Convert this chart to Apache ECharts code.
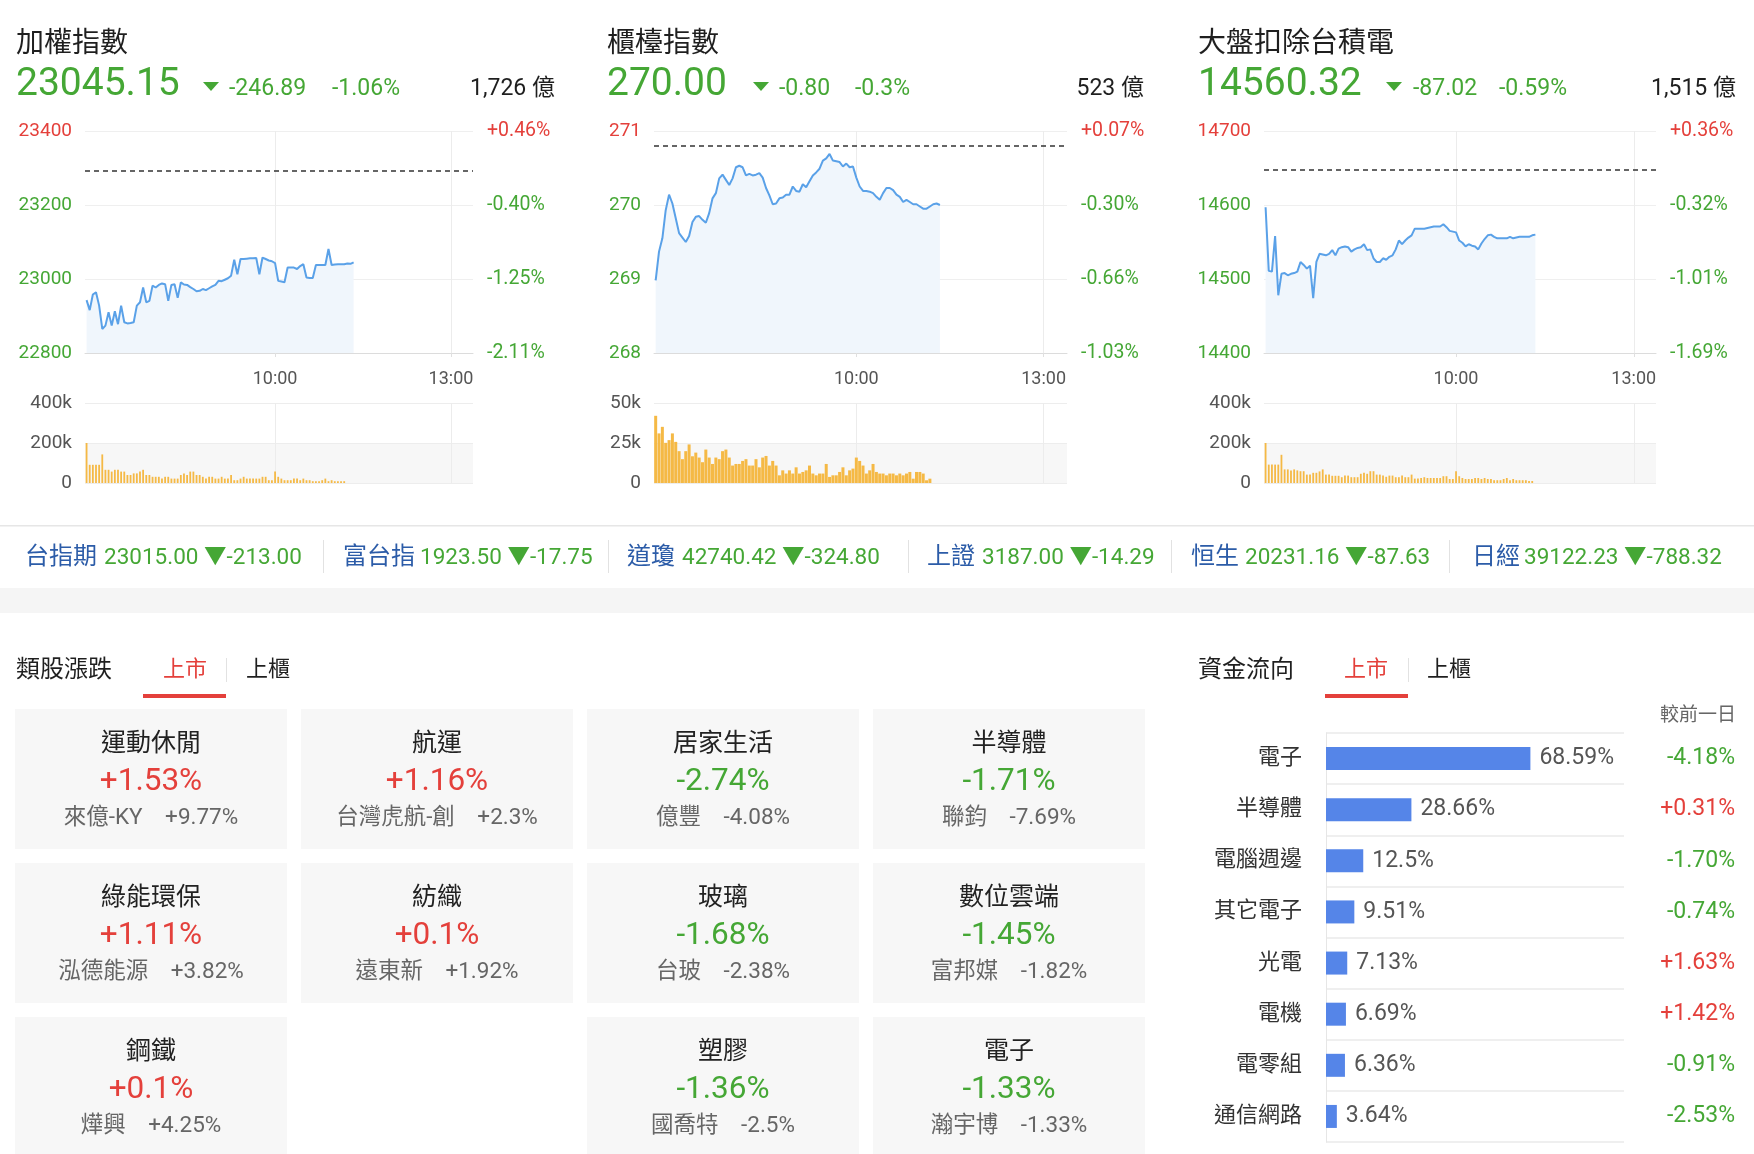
<!DOCTYPE html>
<html><head><meta charset="utf-8">
<script src="https://cdn.jsdelivr.net/npm/echarts@6/dist/echarts.min.js"></script>
<style>html,body{margin:0;padding:0;background:#fff;}#c{width:1754px;height:1154px;}</style>
</head><body><div id="c"></div>
<script>
// ---------------- DATA ----------------
const indexNames = ['加權指數', '櫃檯指數', '大盤扣除台積電'];
const indexLast = ['23045.15', '270.00', '14560.32'];
const indexChange = ['-246.89', '-0.80', '-87.02'];
const indexChangePct = ['-1.06%', '-0.3%', '-0.59%'];
const indexTurnover = ['1,726 億', '523 億', '1,515 億'];
const prevClose = [23292.04, 270.80, 14647.34];
const priceMin = [22800, 268, 14400];
const priceMax = [23400, 271, 14700];
const priceStep = [200, 1, 100];
const pctLabels = [
  ['-2.11%', '-1.25%', '-0.40%', '+0.46%'],
  ['-1.03%', '-0.66%', '-0.30%', '+0.07%'],
  ['-1.69%', '-1.01%', '-0.32%', '+0.36%']
];
const volMax = [400, 50, 400];
const volStep = [200, 25, 200];
const timeTickValues = [60, 116];
const timeTickLabels = ['10:00', '13:00'];

const taiexPrice = [22943,22916,22958,22964,22928,22865,22874,22910,22874,22913,
22878,22928,22883,22880,22881,22883,22928,22937,22977,22937,
22941,22982,22977,22984,22988,22986,22941,22984,22986,22949,
22991,22985,22984,22978,22973,22967,22968,22973,22970,22975,
22980,22984,22995,22994,22998,23002,23009,23052,23013,23054,
23054,23055,23056,23056,23057,23013,23058,23054,23050,23048,
23043,22995,22993,22991,23031,23031,23031,23027,23035,23040,
23004,23003,23003,23038,23038,23038,23038,23081,23038,23039,
23040,23040,23040,23042,23041,23045];
const taiexVolume = [200,91,91,91,91,143,66,66,57,66,
66,57,57,40,40,48,48,57,66,40,
40,31,31,31,22,31,31,22,22,22,
40,48,40,57,57,40,40,31,22,31,
31,22,22,31,22,22,40,14,14,22,
31,22,22,22,22,22,31,31,14,14,
57,31,22,14,14,14,22,22,14,22,
14,14,9,9,9,14,22,9,14,9,
9,9,9];

const otcPrice = [268.98,269.37,269.55,269.93,270.14,270.02,269.82,269.62,269.56,269.50,
269.58,269.77,269.84,269.85,269.80,269.76,269.89,270.09,270.16,270.36,
270.41,270.34,270.27,270.36,270.51,270.53,270.51,270.40,270.42,270.40,
270.41,270.43,270.37,270.23,270.13,270.01,270.02,270.09,270.10,270.14,
270.14,270.25,270.19,270.18,270.28,270.24,270.32,270.40,270.44,270.49,
270.60,270.63,270.69,270.60,270.59,270.58,270.52,270.56,270.51,270.52,
270.37,270.25,270.19,270.19,270.18,270.16,270.11,270.07,270.16,270.23,
270.23,270.20,270.14,270.11,270.04,270.07,270.04,270.01,270.01,269.98,
269.95,269.95,269.98,270.01,270.02,270.00];
const otcVolume = [42.0,31.0,35.1,25.1,26.8,31.0,25.7,19.9,14.9,19.9,
24.1,16.7,19.0,15.9,13.0,20.9,15.9,11.9,15.9,14.9,
19.9,20.9,15.9,10.9,11.9,11.9,13.8,14.9,10.9,10.9,
14.9,9.8,15.9,16.9,10.9,13.8,10.9,4.8,7.9,5.9,
7.9,5.9,9.8,5.9,6.9,7.9,10.9,5.9,4.8,5.9,
5.9,11.9,3.8,4.8,4.8,6.9,9.8,4.8,7.9,9.0,
15.9,13.8,10.9,5.9,7.9,11.9,6.9,5.9,5.9,4.8,
5.9,5.9,4.8,5.9,4.8,5.9,6.9,2.7,6.9,6.9,
5.9,1.7,2.7];

const exTsmcPrice = [14597,14511,14510,14558,14478,14507,14508,14505,14507,14508,
14510,14523,14519,14514,14518,14474,14523,14534,14533,14532,
14534,14539,14532,14541,14543,14544,14543,14537,14540,14542,
14543,14547,14539,14540,14528,14523,14523,14528,14526,14530,
14532,14540,14552,14547,14552,14556,14559,14568,14568,14568,
14568,14569,14570,14571,14571,14571,14574,14570,14565,14564,
14563,14552,14549,14544,14547,14545,14544,14540,14548,14554,
14559,14560,14557,14555,14555,14555,14555,14557,14555,14556,
14557,14557,14557,14557,14559,14560];
const exTsmcVolume = [200,92,92,92,92,141,68,68,63,68,
63,59,59,42,42,51,51,58,68,42,
42,36,36,36,29,37,37,29,29,29,
46,51,46,59,59,42,42,37,31,37,
37,29,29,37,29,29,42,22,22,25,
29,25,25,25,25,25,34,34,20,20,
59,34,25,20,20,20,25,25,20,25,
20,20,14,14,14,20,25,14,20,14,
14,14,14,10,10];

const tickerNames = ['台指期', '富台指', '道瓊', '上證', '恒生', '日經'];
const tickerValues = ['23015.00', '1923.50', '42740.42', '3187.00', '20231.16', '39122.23'];
const tickerChanges = ['-213.00', '-17.75', '-324.80', '-14.29', '-87.63', '-788.32'];

const sectorNames = ['運動休閒', '航運', '居家生活', '半導體', '綠能環保', '紡織', '玻璃', '數位雲端', '鋼鐵', null, '塑膠', '電子'];
const sectorPct = ['+1.53%', '+1.16%', '-2.74%', '-1.71%', '+1.11%', '+0.1%', '-1.68%', '-1.45%', '+0.1%', null, '-1.36%', '-1.33%'];
const sectorLeader = ['來億-KY', '台灣虎航-創', '億豐', '聯鈞', '泓德能源', '遠東新', '台玻', '富邦媒', '燁興', null, '國喬特', '瀚宇博'];
const sectorLeaderPct = ['+9.77%', '+2.3%', '-4.08%', '-7.69%', '+3.82%', '+1.92%', '-2.38%', '-1.82%', '+4.25%', null, '-2.5%', '-1.33%'];

const fundCats = ['電子', '半導體', '電腦週邊', '其它電子', '光電', '電機', '電零組', '通信網路'];
const fundShare = [68.59, 28.66, 12.5, 9.51, 7.13, 6.69, 6.36, 3.64];
const fundChange = ['-4.18%', '+0.31%', '-1.70%', '-0.74%', '+1.63%', '+1.42%', '-0.91%', '-2.53%'];

// ---------------- STYLE / LAYOUT ----------------
const GREEN = '#45a735', RED = '#e4403b', BLUE_T = '#2c5ca8';
const FONT = "Roboto, 'Noto Sans CJK TC', 'Noto Sans', sans-serif";
const panels = [
  {gl: 85, gw: 388, tx: 16, tri: 203, chg: 229, pct: 332, turn: 555, price: taiexPrice, vol: taiexVolume, bw: 1.8},
  {gl: 654, gw: 413, tx: 607, tri: 753, chg: 779, pct: 855, turn: 1144, price: otcPrice, vol: otcVolume, bw: 3},
  {gl: 1264, gw: 392, tx: 1198, tri: 1386, chg: 1413, pct: 1499, turn: 1736, price: exTsmcPrice, vol: exTsmcVolume, bw: 1.8}
];

function txt(x, y, text, size, fill, align, weight) {
  return {type: 'text', x: x, y: y, z: 10, style: {text: text, fill: fill, fontSize: size, fontFamily: FONT,
    fontWeight: weight || 'normal', align: align || 'left', verticalAlign: 'middle'}};
}
function rect(x, y, w, h, fill) {
  return {type: 'rect', z: 1, shape: {x: x, y: y, width: w, height: h}, style: {fill: fill}};
}

const grids = [], xAxes = [], yAxes = [], series = [], graphics = [];

panels.forEach((p, k) => {
  grids.push({left: p.gl, top: 131, width: p.gw, height: 222});
  grids.push({left: p.gl, top: 403, width: p.gw, height: 80});
  const xBase = {type: 'value', min: -0.5, max: 123,
    splitLine: {show: true, lineStyle: {color: '#ececec', width: 1}}};
  xAxes.push(Object.assign({}, xBase, {gridIndex: 2 * k,
    axisLine: {show: true, lineStyle: {color: '#dcdcdc'}},
    axisTick: {show: true, customValues: timeTickValues, length: 4, lineStyle: {color: '#e0e0e0'}},
    axisLabel: {show: true, customValues: timeTickValues, margin: 18, color: '#555', fontSize: 18, fontFamily: FONT,
      formatter: v => timeTickLabels[timeTickValues.indexOf(v)]}}));
  xAxes.push(Object.assign({}, xBase, {gridIndex: 2 * k + 1,
    axisLine: {show: false}, axisTick: {show: false, customValues: timeTickValues},
    axisLabel: {show: false, customValues: timeTickValues}}));
  const colorFn = v => (v > prevClose[k] ? RED : GREEN);
  yAxes.push({gridIndex: 2 * k, type: 'value', min: priceMin[k], max: priceMax[k], interval: priceStep[k], position: 'left',
    axisLine: {show: false}, axisTick: {show: false},
    axisLabel: {color: colorFn, fontSize: 19, fontFamily: FONT, margin: 13, formatter: v => String(v)},
    splitLine: {show: true, lineStyle: {color: '#efefef'}}});
  yAxes.push({gridIndex: 2 * k, type: 'value', min: priceMin[k], max: priceMax[k], interval: priceStep[k], position: 'right',
    axisLine: {show: false}, axisTick: {show: false}, splitLine: {show: false},
    axisLabel: {color: colorFn, fontSize: 19.5, fontFamily: FONT, margin: 14,
      formatter: v => pctLabels[k][Math.round((v - priceMin[k]) / priceStep[k])]}});
  yAxes.push({gridIndex: 2 * k + 1, type: 'value', min: 0, max: volMax[k], interval: volStep[k], position: 'left',
    axisLine: {show: false}, axisTick: {show: false},
    axisLabel: {color: '#555', fontSize: 19, fontFamily: FONT, margin: 13, formatter: v => (v === 0 ? '0' : v + 'k')},
    splitLine: {show: true, lineStyle: {color: '#ededed'}},
    splitArea: {show: true, areaStyle: {color: ['#f7f7f7', 'rgba(255,255,255,0)']}}});

  series.push({type: 'line', xAxisIndex: 2 * k, yAxisIndex: 3 * k, data: p.price.map((v, i) => [i, v]),
    showSymbol: false, symbol: 'none', lineStyle: {color: '#5aa1e8', width: 2}, itemStyle: {color: '#5aa1e8'},
    areaStyle: {color: '#f0f6fc', opacity: 1},
    markLine: {silent: true, symbol: ['none', 'none'], label: {show: false},
      lineStyle: {color: '#333', type: [5, 4], width: 1.5}, data: [{yAxis: prevClose[k]}]}});
  series.push({type: 'bar', xAxisIndex: 2 * k + 1, yAxisIndex: 3 * k + 2, data: p.vol.map((v, i) => [i, v]),
    barWidth: p.bw, itemStyle: {color: '#f5b945'}});

  // header
  graphics.push(txt(p.tx, 44.5, indexNames[k], 28, '#1f1f1f'));
  graphics.push(txt(p.tx, 85, indexLast[k], 39, GREEN));
  graphics.push({type: 'polygon', z: 10, shape: {points: [[p.tri, 82], [p.tri + 16, 82], [p.tri + 8, 91]]}, style: {fill: GREEN}});
  graphics.push(txt(p.chg, 89.5, indexChange[k], 23, GREEN));
  graphics.push(txt(p.pct, 89.5, indexChangePct[k], 23, GREEN));
  graphics.push(txt(p.turn, 89.5, indexTurnover[k], 23, '#1f1f1f', 'right'));
});

// fund flow chart
grids.push({left: 1326, top: 733, width: 298, height: 409});
xAxes.push({gridIndex: 6, type: 'value', min: 0, max: 100, show: false});
yAxes.push({gridIndex: 6, type: 'category', data: fundCats, inverse: true, position: 'left',
  axisLine: {show: true, lineStyle: {color: '#e6e6e6'}}, axisTick: {show: false},
  axisLabel: {fontSize: 22, color: '#333', fontFamily: FONT, margin: 24},
  splitLine: {show: true, lineStyle: {color: '#efefef', width: 2}}});
yAxes.push({gridIndex: 6, type: 'category', data: fundChange, inverse: true, position: 'right',
  axisLine: {show: false}, axisTick: {show: false}, splitLine: {show: false},
  axisLabel: {fontSize: 23, fontFamily: FONT, margin: 111, align: 'right',
    color: v => (String(v).charAt(0) === '-' ? GREEN : RED)}});
series.push({type: 'bar', xAxisIndex: 6, yAxisIndex: 9, data: fundShare, barWidth: 23,
  itemStyle: {color: '#5585e8'},
  label: {show: true, position: 'right', distance: 9, formatter: '{c}%', fontSize: 23, color: '#555', fontFamily: FONT}});

// ticker bar
graphics.push(rect(0, 525, 1754, 1.5, '#e6e6e6'));
graphics.push(rect(0, 588, 1754, 25, '#f5f5f5'));
const tickerNameX = [25, 343, 627, 927, 1191, 1472];
const tickerValX = [104, 420, 682, 982, 1245, 1524];
[323, 608, 908, 1171, 1449].forEach(x => graphics.push(rect(x, 540, 1, 33, '#e2e2e2')));
tickerNames.forEach((n, i) => {
  graphics.push(txt(tickerNameX[i], 558, n, 24, BLUE_T));
  graphics.push(txt(tickerValX[i], 558, tickerValues[i] + ' ▼' + tickerChanges[i], 22.5, GREEN));
});

// section headers
function sectionHeader(x, title, tabX, ulX, ulW) {
  graphics.push(txt(x, 670.5, title, 24, '#1f1f1f'));
  graphics.push(txt(tabX, 670.5, '上市', 22, RED, 'center'));
  graphics.push(txt(tabX + 83, 670.5, '上櫃', 22, '#1f1f1f', 'center'));
  graphics.push(rect(ulX, 694, ulW, 4, RED));
  graphics.push(rect(ulX + ulW, 658, 1, 24, '#e2e2e2'));
}
sectionHeader(16, '類股漲跌', 185, 143, 83);
sectionHeader(1198, '資金流向', 1366, 1325, 83);
graphics.push(txt(1736, 716, '較前一日', 19, '#666', 'right'));

// sector tiles
const tileX = [15, 301, 587, 873], tileY = [709, 863, 1017];
sectorNames.forEach((n, i) => {
  if (!n) return;
  const x = tileX[i % 4], y = tileY[Math.floor(i / 4)];
  graphics.push(rect(x, y, 272, (i >= 8 ? 160 : 140), '#f7f7f7'));
  const cx = x + 136;
  graphics.push(txt(cx, y + 36, n, 25, '#222', 'center'));
  graphics.push(txt(cx, y + 73.5, sectorPct[i], 31.5, sectorPct[i].charAt(0) === '-' ? GREEN : RED, 'center'));
  graphics.push(txt(cx, y + 109.5, sectorLeader[i] + '\u3000' + sectorLeaderPct[i], 22.5, '#666', 'center'));
});

const chart = echarts.init(document.getElementById('c'), null, {renderer: 'canvas', width: 1754, height: 1154});
chart.setOption({
  animation: false,
  backgroundColor: '#fff',
  textStyle: {fontFamily: FONT},
  grid: grids, xAxis: xAxes, yAxis: yAxes, series: series, graphic: graphics
});
</script></body></html>
